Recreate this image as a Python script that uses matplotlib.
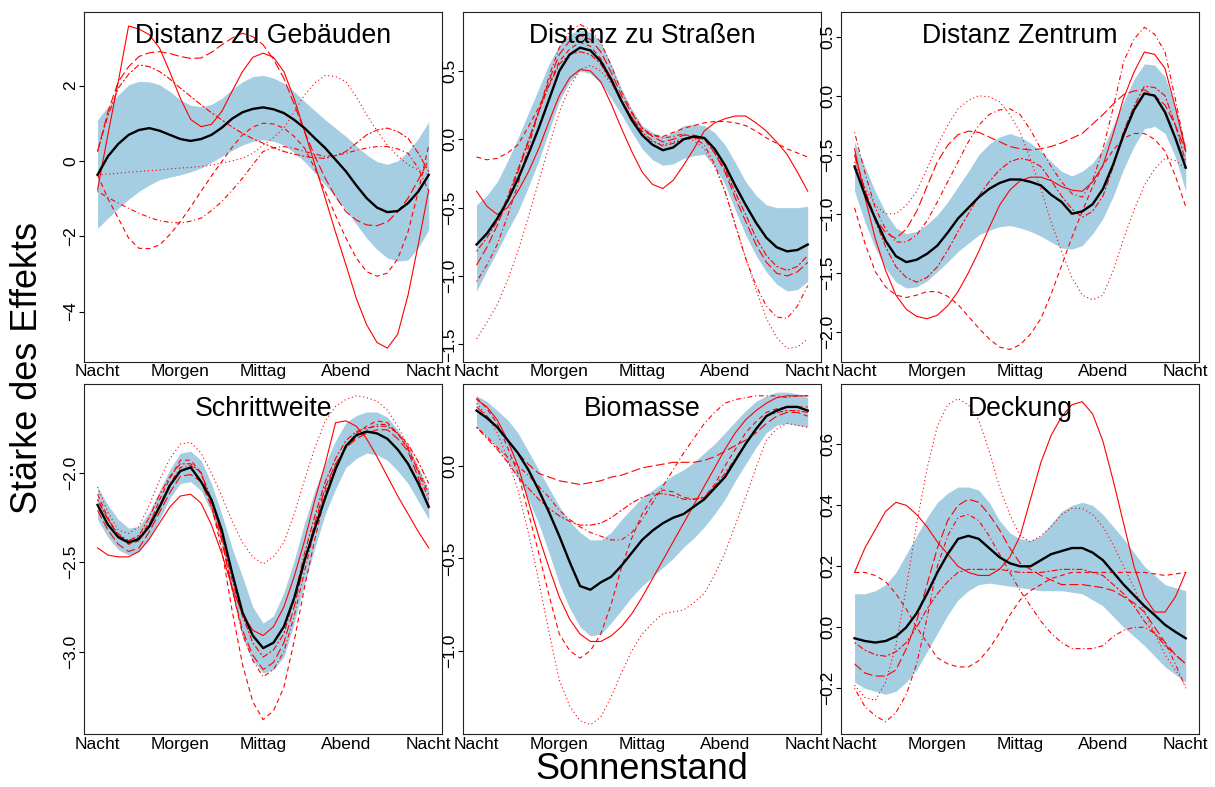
import matplotlib
matplotlib.use('Agg')
import matplotlib.pyplot as plt

plt.rcParams['font.family'] = ['Liberation Sans', 'DejaVu Sans']
plt.rcParams['lines.scale_dashes'] = False

# Stunden des Tages (Sonnenstand), Ablesepunkte
stunde = [0, 0.75, 1.5, 2.25, 3, 3.75, 4.5, 5.25, 6, 6.75, 7.5, 8.25, 9, 9.75, 10.5, 11.25, 12,
          12.75, 13.5, 14.25, 15, 15.75, 16.5, 17.25, 18, 18.75, 19.5, 20.25, 21, 21.75, 22.5, 23.25, 24]
tageszeit = ['Nacht', 'Morgen', 'Mittag', 'Abend', 'Nacht']
tageszeit_pos = [0, 6, 12, 18, 24]

# Distanz zu Gebäuden
geb_mittel = [-0.37, 0.12, 0.45, 0.69, 0.82, 0.87, 0.80, 0.69, 0.58, 0.53, 0.58, 0.69, 0.88, 1.12, 1.29, 1.38, 1.42,
              1.37, 1.27, 1.09, 0.87, 0.60, 0.34, 0.03, -0.28, -0.65, -0.99, -1.24, -1.36, -1.33, -1.12, -0.81, -0.37]
geb_oben = [1.09, 1.45, 1.75, 2.02, 2.11, 2.10, 2.02, 1.84, 1.62, 1.48, 1.44, 1.50, 1.66, 1.90, 2.10, 2.24, 2.27,
            2.20, 2.06, 1.84, 1.58, 1.33, 1.09, 0.87, 0.65, 0.40, 0.16, -0.02, -0.09, 0.00, 0.25, 0.60, 1.04]
geb_unten = [-1.79, -1.52, -1.26, -1.02, -0.81, -0.64, -0.50, -0.43, -0.37, -0.29, -0.19, -0.04, 0.12, 0.28, 0.42, 0.52, 0.56,
             0.52, 0.42, 0.22, -0.02, -0.32, -0.64, -0.97, -1.30, -1.68, -2.05, -2.35, -2.58, -2.66, -2.63, -2.30, -1.83]
geb_tiere = [
    [-0.77, 0.70, 2.10, 3.58, 3.50, 3.35, 2.99, 2.35, 1.66, 1.10, 0.91, 0.97, 1.31, 1.85, 2.37, 2.75, 2.86,
     2.75, 2.37, 1.65, 0.78, -0.10, -0.99, -1.90, -2.76, -3.65, -4.35, -4.82, -4.97, -4.60, -3.56, -2.20, -0.77],
    [-0.37, -1.00, -1.52, -2.05, -2.32, -2.33, -2.23, -1.95, -1.61, -1.22, -0.81, -0.40, -0.02, 0.36, 0.69, 0.90, 1.00,
     0.98, 0.87, 0.65, 0.34, -0.20, -0.81, -1.45, -2.05, -2.58, -2.94, -3.06, -2.98, -2.60, -1.88, -0.80, 0.42],
    [-0.37, -0.35, -0.33, -0.30, -0.28, -0.26, -0.24, -0.21, -0.19, -0.17, -0.15, -0.11, -0.06, 0.00, 0.07, 0.20, 0.42,
     0.62, 0.87, 1.30, 1.75, 2.07, 2.27, 2.24, 2.10, 1.70, 1.22, 0.80, 0.42, 0.13, -0.10, -0.25, -0.37],
    [-0.81, -0.97, -1.12, -1.26, -1.39, -1.50, -1.59, -1.63, -1.65, -1.60, -1.52, -1.32, -1.08, -0.78, -0.46, -0.10, 0.25,
     0.35, 0.38, 0.33, 0.25, 0.18, 0.12, 0.15, 0.20, 0.28, 0.34, 0.38, 0.38, 0.32, 0.20, -0.20, -0.81],
    [0.25, 1.30, 2.10, 2.50, 2.77, 2.87, 2.90, 2.85, 2.77, 2.72, 2.73, 2.88, 3.08, 3.26, 3.39, 3.30, 3.08,
     2.70, 2.19, 1.50, 0.78, 0.12, -0.46, -0.95, -1.35, -1.57, -1.70, -1.72, -1.62, -1.35, -0.99, -0.50, 0.03],
    [0.25, 1.20, 1.93, 2.30, 2.55, 2.50, 2.37, 2.17, 1.93, 1.71, 1.49, 1.28, 1.09, 0.90, 0.73, 0.59, 0.47,
     0.35, 0.25, 0.18, 0.12, 0.08, 0.07, 0.14, 0.25, 0.47, 0.69, 0.82, 0.87, 0.78, 0.60, 0.20, -0.28],
]

# Distanz zu Straßen
str_mittel = [-0.77, -0.69, -0.58, -0.45, -0.29, -0.11, 0.08, 0.29, 0.50, 0.62, 0.67, 0.65, 0.57, 0.44, 0.28, 0.14, 0.03,
              -0.04, -0.08, -0.06, 0.00, 0.02, 0.01, -0.07, -0.19, -0.34, -0.48, -0.61, -0.72, -0.79, -0.82, -0.81, -0.77]
str_oben = [-0.48, -0.41, -0.31, -0.16, 0.01, 0.19, 0.37, 0.55, 0.69, 0.77, 0.80, 0.78, 0.71, 0.55, 0.37, 0.22, 0.10,
            0.05, 0.02, 0.05, 0.10, 0.11, 0.10, 0.05, -0.04, -0.17, -0.31, -0.41, -0.48, -0.50, -0.50, -0.50, -0.49]
str_unten = [-1.11, -0.96, -0.82, -0.67, -0.53, -0.35, -0.16, 0.06, 0.28, 0.42, 0.50, 0.48, 0.41, 0.30, 0.18, 0.05, -0.07,
             -0.15, -0.19, -0.18, -0.14, -0.12, -0.11, -0.20, -0.33, -0.52, -0.70, -0.85, -0.97, -1.06, -1.11, -1.10, -1.04]
str_tiere = [
    [-0.38, -0.49, -0.55, -0.50, -0.38, -0.24, -0.07, 0.13, 0.32, 0.45, 0.51, 0.50, 0.42, 0.26, 0.08, -0.09, -0.24,
     -0.33, -0.36, -0.30, -0.19, -0.07, 0.06, 0.12, 0.15, 0.17, 0.17, 0.12, 0.06, -0.02, -0.11, -0.24, -0.38],
    [-0.13, -0.15, -0.14, -0.10, -0.04, 0.09, 0.23, 0.40, 0.57, 0.66, 0.71, 0.68, 0.59, 0.44, 0.28, 0.16, 0.06,
     0.03, 0.02, 0.05, 0.08, 0.10, 0.12, 0.13, 0.13, 0.12, 0.10, 0.06, 0.01, -0.03, -0.07, -0.10, -0.13],
    [-1.46, -1.34, -1.21, -1.03, -0.82, -0.57, -0.31, -0.05, 0.20, 0.38, 0.51, 0.54, 0.50, 0.41, 0.28, 0.15, 0.03,
     -0.02, -0.04, -0.02, 0.01, -0.01, -0.07, -0.20, -0.38, -0.62, -0.87, -1.10, -1.31, -1.45, -1.53, -1.52, -1.46],
    [-1.04, -0.92, -0.77, -0.56, -0.33, -0.06, 0.20, 0.46, 0.67, 0.79, 0.84, 0.80, 0.71, 0.54, 0.35, 0.20, 0.08,
     0.03, 0.01, 0.02, 0.04, 0.01, -0.04, -0.18, -0.38, -0.63, -0.87, -1.07, -1.22, -1.30, -1.31, -1.22, -1.07],
    [-0.92, -0.79, -0.63, -0.44, -0.24, -0.02, 0.20, 0.43, 0.62, 0.72, 0.76, 0.73, 0.64, 0.49, 0.32, 0.19, 0.08,
     0.02, -0.02, 0.00, 0.03, 0.03, 0.01, -0.10, -0.24, -0.43, -0.60, -0.77, -0.90, -0.98, -1.00, -0.97, -0.90],
    [-0.82, -0.72, -0.60, -0.42, -0.22, -0.01, 0.20, 0.39, 0.55, 0.62, 0.64, 0.62, 0.55, 0.42, 0.28, 0.16, 0.05,
     -0.01, -0.05, -0.03, 0.00, 0.01, 0.00, -0.10, -0.22, -0.39, -0.55, -0.72, -0.85, -0.93, -0.96, -0.93, -0.85],
]

# Distanz Zentrum
zen_mittel = [-0.60, -0.84, -1.04, -1.23, -1.36, -1.41, -1.39, -1.34, -1.27, -1.16, -1.04, -0.95, -0.86, -0.79, -0.74, -0.71, -0.71,
              -0.73, -0.76, -0.84, -0.90, -1.00, -0.98, -0.92, -0.79, -0.58, -0.33, -0.12, 0.02, 0.00, -0.14, -0.36, -0.61]
zen_oben = [-0.39, -0.60, -0.81, -0.99, -1.12, -1.17, -1.15, -1.09, -1.01, -0.90, -0.77, -0.64, -0.50, -0.41, -0.35, -0.32, -0.35,
            -0.40, -0.47, -0.56, -0.64, -0.68, -0.64, -0.57, -0.45, -0.25, -0.05, 0.14, 0.27, 0.26, 0.16, -0.10, -0.42]
zen_unten = [-0.81, -1.07, -1.29, -1.46, -1.58, -1.63, -1.62, -1.57, -1.49, -1.41, -1.32, -1.25, -1.18, -1.14, -1.11, -1.10, -1.12,
             -1.15, -1.19, -1.24, -1.29, -1.30, -1.27, -1.17, -1.04, -0.85, -0.62, -0.43, -0.28, -0.26, -0.32, -0.52, -0.81]
zen_tiere = [
    [-0.45, -0.86, -1.21, -1.48, -1.69, -1.81, -1.87, -1.89, -1.86, -1.78, -1.66, -1.50, -1.32, -1.12, -0.93, -0.80, -0.72,
     -0.69, -0.69, -0.72, -0.77, -0.80, -0.81, -0.73, -0.59, -0.32, -0.02, 0.20, 0.37, 0.35, 0.23, -0.10, -0.47],
    [-0.95, -1.25, -1.49, -1.62, -1.69, -1.71, -1.69, -1.66, -1.66, -1.70, -1.77, -1.87, -1.97, -2.06, -2.13, -2.15, -2.11,
     -2.02, -1.89, -1.68, -1.44, -1.20, -0.98, -0.77, -0.59, -0.46, -0.36, -0.32, -0.32, -0.37, -0.47, -0.68, -0.94],
    [-0.56, -0.78, -0.93, -1.00, -1.00, -0.93, -0.81, -0.62, -0.42, -0.25, -0.11, -0.04, 0.00, -0.01, -0.05, -0.16, -0.31,
     -0.54, -0.79, -1.07, -1.32, -1.54, -1.69, -1.73, -1.69, -1.48, -1.21, -0.97, -0.76, -0.62, -0.53, -0.55, -0.62],
    [-0.31, -0.65, -0.95, -1.13, -1.24, -1.24, -1.18, -1.06, -0.90, -0.73, -0.56, -0.39, -0.25, -0.16, -0.12, -0.11, -0.16,
     -0.29, -0.45, -0.60, -0.73, -0.83, -0.86, -0.72, -0.45, -0.10, 0.29, 0.48, 0.58, 0.52, 0.37, -0.03, -0.47],
    [-0.50, -0.80, -1.04, -1.16, -1.21, -1.13, -0.98, -0.77, -0.56, -0.42, -0.33, -0.30, -0.31, -0.35, -0.39, -0.43, -0.45,
     -0.46, -0.45, -0.43, -0.40, -0.36, -0.32, -0.24, -0.16, -0.07, 0.01, 0.04, 0.05, 0.00, -0.08, -0.25, -0.47],
    [-0.50, -0.80, -1.06, -1.28, -1.45, -1.54, -1.58, -1.54, -1.45, -1.31, -1.15, -1.00, -0.85, -0.73, -0.63, -0.56, -0.53,
     -0.55, -0.60, -0.72, -0.85, -0.96, -1.03, -0.98, -0.85, -0.60, -0.30, -0.09, 0.08, 0.07, 0.00, -0.25, -0.56],
]

# Schrittweite
sch_mittel = [-2.18, -2.29, -2.36, -2.39, -2.37, -2.30, -2.19, -2.07, -1.99, -1.97, -2.05, -2.15, -2.32, -2.56, -2.78, -2.91, -2.98,
              -2.95, -2.86, -2.70, -2.49, -2.31, -2.14, -1.98, -1.85, -1.79, -1.77, -1.78, -1.81, -1.87, -1.95, -2.06, -2.19]
sch_oben = [-2.08, -2.18, -2.26, -2.31, -2.30, -2.22, -2.10, -1.98, -1.89, -1.88, -1.93, -2.06, -2.23, -2.42, -2.58, -2.75, -2.84,
            -2.80, -2.67, -2.49, -2.28, -2.10, -1.95, -1.82, -1.72, -1.68, -1.66, -1.66, -1.69, -1.76, -1.85, -1.97, -2.10]
sch_unten = [-2.26, -2.36, -2.43, -2.46, -2.44, -2.37, -2.26, -2.14, -2.06, -2.05, -2.10, -2.22, -2.39, -2.67, -2.92, -3.05, -3.12,
             -3.10, -3.03, -2.84, -2.62, -2.42, -2.23, -2.09, -1.97, -1.92, -1.89, -1.90, -1.93, -1.99, -2.06, -2.16, -2.26]
sch_tiere = [
    [-2.42, -2.46, -2.47, -2.47, -2.44, -2.37, -2.28, -2.19, -2.13, -2.12, -2.17, -2.29, -2.45, -2.64, -2.79, -2.88, -2.91,
     -2.86, -2.75, -2.58, -2.38, -2.15, -1.95, -1.72, -1.71, -1.74, -1.81, -1.91, -2.02, -2.13, -2.23, -2.33, -2.42],
    [-2.12, -2.25, -2.36, -2.40, -2.38, -2.29, -2.15, -2.03, -1.93, -1.93, -2.00, -2.18, -2.43, -2.77, -3.07, -3.28, -3.38,
     -3.33, -3.20, -2.94, -2.64, -2.37, -2.13, -1.97, -1.85, -1.78, -1.74, -1.71, -1.72, -1.78, -1.87, -1.99, -2.12],
    [-2.08, -2.22, -2.32, -2.34, -2.30, -2.18, -2.04, -1.92, -1.84, -1.83, -1.89, -2.00, -2.13, -2.27, -2.39, -2.47, -2.51,
     -2.47, -2.39, -2.23, -2.04, -1.86, -1.71, -1.63, -1.59, -1.57, -1.58, -1.60, -1.65, -1.74, -1.85, -1.98, -2.10],
    [-2.15, -2.26, -2.34, -2.38, -2.36, -2.28, -2.18, -2.06, -1.97, -1.96, -2.00, -2.15, -2.36, -2.65, -2.90, -3.05, -3.14,
     -3.10, -3.00, -2.80, -2.55, -2.31, -2.10, -1.96, -1.86, -1.80, -1.76, -1.73, -1.73, -1.78, -1.86, -2.00, -2.15],
    [-2.21, -2.32, -2.40, -2.44, -2.42, -2.33, -2.22, -2.11, -2.02, -2.01, -2.05, -2.19, -2.38, -2.65, -2.88, -3.02, -3.10,
     -3.06, -2.95, -2.75, -2.50, -2.28, -2.08, -1.95, -1.86, -1.81, -1.78, -1.76, -1.76, -1.81, -1.88, -2.03, -2.20],
    [-2.15, -2.26, -2.35, -2.38, -2.35, -2.25, -2.12, -2.02, -1.95, -1.95, -2.00, -2.15, -2.35, -2.60, -2.80, -2.95, -3.03,
     -2.99, -2.90, -2.70, -2.45, -2.24, -2.05, -1.92, -1.82, -1.77, -1.75, -1.74, -1.74, -1.78, -1.84, -1.94, -2.06],
]

# Biomasse
bio_mittel = [0.30, 0.26, 0.21, 0.14, 0.07, -0.02, -0.13, -0.25, -0.38, -0.52, -0.65, -0.67, -0.63, -0.60, -0.54, -0.47, -0.40,
              -0.35, -0.31, -0.28, -0.26, -0.22, -0.18, -0.12, -0.06, 0.03, 0.12, 0.20, 0.27, 0.30, 0.32, 0.32, 0.30]
bio_oben = [0.38, 0.35, 0.30, 0.25, 0.18, 0.08, -0.02, -0.12, -0.22, -0.30, -0.36, -0.40, -0.40, -0.36, -0.29, -0.23, -0.17,
            -0.13, -0.09, -0.05, -0.02, 0.02, 0.07, 0.12, 0.18, 0.24, 0.30, 0.35, 0.38, 0.40, 0.40, 0.39, 0.37]
bio_unten = [0.21, 0.16, 0.10, 0.02, -0.06, -0.18, -0.31, -0.47, -0.64, -0.77, -0.87, -0.92, -0.91, -0.85, -0.78, -0.71, -0.65,
             -0.60, -0.55, -0.50, -0.44, -0.39, -0.33, -0.26, -0.18, -0.08, 0.01, 0.10, 0.18, 0.22, 0.23, 0.22, 0.21]
bio_tiere = [
    [0.36, 0.32, 0.25, 0.14, 0.00, -0.19, -0.38, -0.55, -0.71, -0.83, -0.91, -0.95, -0.95, -0.92, -0.87, -0.80, -0.71,
     -0.61, -0.51, -0.41, -0.31, -0.21, -0.11, -0.01, 0.09, 0.18, 0.25, 0.30, 0.34, 0.37, 0.38, 0.38, 0.38],
    [0.37, 0.31, 0.23, 0.10, -0.04, -0.25, -0.47, -0.70, -0.91, -1.00, -1.04, -1.00, -0.91, -0.75, -0.55, -0.39, -0.26,
     -0.17, -0.13, -0.14, -0.17, -0.18, -0.17, -0.10, 0.00, 0.09, 0.18, 0.24, 0.29, 0.31, 0.32, 0.32, 0.32],
    [0.34, 0.27, 0.18, 0.04, -0.13, -0.36, -0.62, -0.90, -1.16, -1.30, -1.38, -1.40, -1.36, -1.25, -1.12, -1.00, -0.91,
     -0.85, -0.80, -0.79, -0.78, -0.74, -0.69, -0.59, -0.47, -0.32, -0.17, -0.01, 0.14, 0.20, 0.23, 0.22, 0.21],
    [0.21, 0.16, 0.10, 0.05, 0.00, -0.05, -0.11, -0.17, -0.24, -0.29, -0.33, -0.36, -0.38, -0.40, -0.40, -0.36, -0.29,
     -0.20, -0.11, -0.02, 0.07, 0.15, 0.23, 0.29, 0.34, 0.36, 0.37, 0.38, 0.38, 0.38, 0.37, 0.38, 0.38],
    [0.32, 0.27, 0.21, 0.14, 0.07, 0.01, -0.04, -0.06, -0.08, -0.09, -0.10, -0.09, -0.08, -0.06, -0.05, -0.03, -0.01,
     0.00, 0.01, 0.02, 0.02, 0.02, 0.03, 0.05, 0.08, 0.11, 0.14, 0.18, 0.23, 0.27, 0.29, 0.29, 0.27],
    [0.21, 0.15, 0.09, 0.02, -0.06, -0.12, -0.18, -0.23, -0.27, -0.30, -0.32, -0.32, -0.31, -0.28, -0.24, -0.20, -0.17,
     -0.15, -0.15, -0.16, -0.18, -0.18, -0.17, -0.11, -0.04, 0.04, 0.12, 0.20, 0.27, 0.29, 0.30, 0.30, 0.29],
]

# Deckung
dec_mittel = [-0.036, -0.045, -0.05, -0.045, -0.03, 0.0, 0.046, 0.11, 0.18, 0.24, 0.29, 0.30, 0.29, 0.26, 0.23, 0.21, 0.20,
              0.20, 0.22, 0.24, 0.25, 0.26, 0.26, 0.245, 0.22, 0.18, 0.14, 0.105, 0.07, 0.04, 0.008, -0.015, -0.036]
dec_oben = [0.11, 0.11, 0.12, 0.14, 0.18, 0.24, 0.30, 0.36, 0.41, 0.44, 0.46, 0.46, 0.45, 0.41, 0.35, 0.31, 0.29,
            0.285, 0.30, 0.34, 0.38, 0.40, 0.41, 0.40, 0.37, 0.33, 0.29, 0.245, 0.20, 0.17, 0.14, 0.13, 0.12]
dec_unten = [-0.18, -0.20, -0.21, -0.22, -0.21, -0.18, -0.14, -0.08, -0.02, 0.04, 0.09, 0.12, 0.14, 0.145, 0.14, 0.135, 0.13,
             0.125, 0.12, 0.12, 0.12, 0.115, 0.11, 0.09, 0.07, 0.035, 0.00, -0.03, -0.06, -0.095, -0.13, -0.155, -0.18]
dec_tiere = [
    [0.18, 0.26, 0.32, 0.38, 0.41, 0.40, 0.37, 0.33, 0.28, 0.24, 0.20, 0.18, 0.17, 0.17, 0.19, 0.23, 0.30,
     0.42, 0.54, 0.63, 0.69, 0.73, 0.74, 0.70, 0.61, 0.48, 0.34, 0.20, 0.10, 0.05, 0.05, 0.10, 0.18],
    [0.18, 0.18, 0.17, 0.15, 0.11, 0.06, 0.00, -0.05, -0.10, -0.12, -0.13, -0.13, -0.11, -0.07, -0.02, 0.04, 0.09,
     0.12, 0.14, 0.16, 0.17, 0.18, 0.18, 0.18, 0.18, 0.18, 0.18, 0.18, 0.18, 0.175, 0.17, 0.175, 0.18],
    [-0.19, -0.23, -0.24, -0.18, -0.06, 0.13, 0.34, 0.52, 0.66, 0.73, 0.75, 0.73, 0.68, 0.58, 0.46, 0.37, 0.30,
     0.28, 0.30, 0.33, 0.37, 0.39, 0.39, 0.37, 0.33, 0.27, 0.20, 0.13, 0.05, -0.02, -0.09, -0.14, -0.19],
    [-0.20, -0.26, -0.29, -0.31, -0.28, -0.22, -0.12, 0.03, 0.20, 0.30, 0.36, 0.37, 0.35, 0.30, 0.24, 0.18, 0.12,
     0.07, 0.02, -0.02, -0.05, -0.07, -0.07, -0.07, -0.06, -0.03, -0.01, 0.00, 0.00, -0.02, -0.05, -0.12, -0.20],
    [-0.12, -0.15, -0.16, -0.16, -0.14, -0.07, 0.02, 0.14, 0.26, 0.35, 0.40, 0.42, 0.41, 0.37, 0.32, 0.26, 0.21,
     0.19, 0.17, 0.155, 0.14, 0.14, 0.14, 0.135, 0.13, 0.12, 0.10, 0.08, 0.05, 0.00, -0.05, -0.09, -0.12],
    [-0.05, -0.075, -0.09, -0.095, -0.08, -0.05, 0.00, 0.06, 0.11, 0.15, 0.18, 0.19, 0.19, 0.19, 0.19, 0.185, 0.18,
     0.18, 0.18, 0.185, 0.19, 0.19, 0.19, 0.18, 0.17, 0.14, 0.11, 0.07, 0.02, -0.02, -0.06, -0.09, -0.12],
]

# Linienarten der einzelnen Tiere (wie lty 1..6 in R)
linien = ['-', (0, (3.5, 2.5)), (0, (0.8, 2.0)), (0, (0.8, 2.0, 3.5, 2.0)),
          (0, (6.5, 2.5)), (0, (1.5, 1.5, 4.5, 1.5))]

panels = [
    ('Distanz zu Gebäuden', geb_mittel, geb_oben, geb_unten, geb_tiere, [2, 0, -2, -4], (-5.33, 3.96), '{:.0f}'),
    ('Distanz zu Straßen', str_mittel, str_oben, str_unten, str_tiere, [0.5, 0, -0.5, -1, -1.5], (-1.627, 0.933), '{:.1f}'),
    ('Distanz Zentrum', zen_mittel, zen_oben, zen_unten, zen_tiere, [0.5, 0, -0.5, -1, -1.5, -2], (-2.254, 0.712), '{:.1f}'),
    ('Schrittweite', sch_mittel, sch_oben, sch_unten, sch_tiere, [-2, -2.5, -3], (-3.46, -1.504), '{:.1f}'),
    ('Biomasse', bio_mittel, bio_oben, bio_unten, bio_tiere, [0, -0.5, -1], (-1.451, 0.444), '{:.1f}'),
    ('Deckung', dec_mittel, dec_oben, dec_unten, dec_tiere, [-0.2, 0, 0.2, 0.4, 0.6], (-0.350, 0.798), '{:.1f}'),
]

W, H = 1215, 787
fig = plt.figure(figsize=(W / 100, H / 100), dpi=100)

lefts = [84.3, 463.3, 841.3]
bottoms = [361.7, 734.0]
breite, hoehe = 357.7, 350.0

for i, (titel, mittel, oben, unten, tiere, yt, ylim, fmt) in enumerate(panels):
    zeile, spalte = divmod(i, 3)
    ax = fig.add_axes([lefts[spalte] / W, 1 - bottoms[zeile] / H, breite / W, hoehe / H])
    ax.fill_between(stunde, unten, oben, color='#a6cee3', lw=0, zorder=1)
    for werte, ls in zip(tiere, linien):
        ax.plot(stunde, werte, color='red', lw=0.8, linestyle=ls, zorder=2,
                solid_joinstyle='round', dash_joinstyle='round')
    ax.plot(stunde, mittel, color='black', lw=1.7, zorder=3, solid_joinstyle='round')

    ax.set_xlim(-0.96, 24.96)
    ax.set_ylim(*ylim)
    ax.set_xticks(tageszeit_pos)
    ax.set_xticklabels(tageszeit, fontsize=12.5)
    ax.tick_params(axis='x', length=0, pad=2)
    ax.set_yticks(yt)
    ax.set_yticklabels([fmt.format(v).replace('-', '\u2212') for v in yt],
                       fontsize=12.5, rotation=90, va='center')
    ax.tick_params(axis='y', length=3.6, width=0.8, pad=1)
    for s in ax.spines.values():
        s.set_linewidth(0.8)
        s.set_color('#222222')
    ax.text(0.5, 0.91, titel, transform=ax.transAxes, ha='center', va='baseline',
            fontsize=19.2, zorder=5)

fig.text(642 / W, 1 - 779 / H, 'Sonnenstand', ha='center', va='baseline', fontsize=26)
fig.text(28 / W, 1 - 368 / H, 'Stärke des Effekts', ha='center', va='center',
         rotation=90, fontsize=26)

fig.savefig('out.png', dpi=100)
